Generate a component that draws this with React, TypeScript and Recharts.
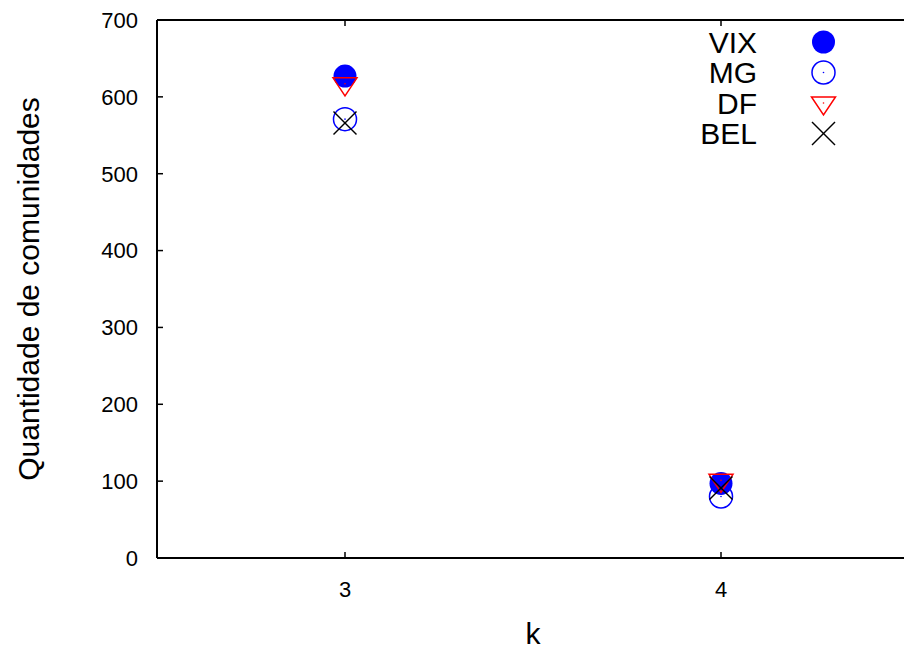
import { ScatterChart, Scatter, XAxis, YAxis, Label, ReferenceLine } from 'recharts';

// data (k = 3, 4)
const K_VALUES = [3, 4];
const VIX = [627, 97];
const MG = [571, 80];
const DF = [617, 101];
const BEL = [566, 91];
const X_TICKS = [3, 4];
const Y_TICKS = [0, 100, 200, 300, 400, 500, 600, 700];

const FONT = '"Liberation Sans", Arial, Helvetica, sans-serif';
const BLUE = '#0000ff';
const RED = '#ff0000';
const MARGIN = { top: 20, right: 11, left: 57, bottom: 0 };
const R = 11.5;

const toRows = (vals: number[]) => K_VALUES.map((k, i) => ({ k, v: vals[i] }));

function FilledCircle({ cx, cy }: any) {
  return <circle cx={cx} cy={cy} r={R} fill={BLUE} />;
}
function OpenCircle({ cx, cy }: any) {
  return (
    <g>
      <circle cx={cx} cy={cy} r={R} fill="none" stroke={BLUE} strokeWidth={1.5} />
      <circle cx={cx} cy={cy} r={0.8} fill={BLUE} />
    </g>
  );
}
function TriangleDown({ cx, cy }: any) {
  const pts = `${cx - 12},${cy - 6} ${cx + 12},${cy - 6} ${cx},${cy + 12}`;
  return (
    <g>
      <polygon points={pts} fill="none" stroke={RED} strokeWidth={1.5} strokeLinejoin="miter" />
      <circle cx={cx} cy={cy} r={0.8} fill={RED} />
    </g>
  );
}
function Cross({ cx, cy }: any) {
  return (
    <g stroke="#000" strokeWidth={1.5}>
      <line x1={cx - R} y1={cy - R} x2={cx + R} y2={cy + R} />
      <line x1={cx - R} y1={cy + R} x2={cx + R} y2={cy - R} />
    </g>
  );
}

const SERIES = [
  { name: 'VIX', values: VIX, Shape: FilledCircle },
  { name: 'MG', values: MG, Shape: OpenCircle },
  { name: 'DF', values: DF, Shape: TriangleDown },
  { name: 'BEL', values: BEL, Shape: Cross },
];

// y ticks: label on the left, short tick pointing into the plot
function YTick({ x, y, payload }: any) {
  const axisX = x + 19;
  return (
    <g>
      <line x1={axisX} y1={y} x2={axisX + 6} y2={y} stroke="#000" strokeWidth={1.5} />
      <text x={x} y={y} dy="0.36em" textAnchor="end" fontSize={22} fill="#000" fontFamily={FONT}>{payload.value}</text>
    </g>
  );
}

// x ticks: label below, inner tick at bottom and mirrored at top border
function XTick({ x, y, payload }: any) {
  const axisY = y - 23;
  return (
    <g>
      <line x1={x} y1={axisY} x2={x} y2={axisY - 6} stroke="#000" strokeWidth={1.5} />
      <line x1={x} y1={MARGIN.top} x2={x} y2={MARGIN.top + 6} stroke="#000" strokeWidth={1.5} />
      <text x={x} y={y} dy="0.71em" textAnchor="middle" fontSize={22} fill="#000" fontFamily={FONT}>{payload.value}</text>
    </g>
  );
}

function YTitle({ viewBox }: any) {
  const cx = viewBox.x - 18;
  const cy = viewBox.y + viewBox.height / 2;
  return (
    <text x={cx} y={cy} transform={`rotate(-90, ${cx}, ${cy})`} textAnchor="middle" fontSize={30} fill="#000" fontFamily={FONT}>
      Quantidade de comunidades
    </text>
  );
}

function LegendBox() {
  return (
    <svg width={170} height={140} style={{ position: 'absolute', left: 690, top: 20 }}>
      {SERIES.map((s, i) => {
        const cy = 22 + i * 30.5;
        const S = s.Shape;
        return (
          <g key={s.name}>
            <text x={67} y={cy + 10.5} textAnchor="end" fontSize={30} fill="#000" fontFamily={FONT}>{s.name}</text>
            <S cx={133.5} cy={cy} />
          </g>
        );
      })}
    </svg>
  );
}

export default function App() {
  return (
    <div style={{ position: 'absolute', left: 0, top: 0, width: 904, height: 650, overflow: 'hidden', background: '#fff', fontFamily: FONT }}>
      <ScatterChart width={920} height={650} margin={MARGIN}>
        <XAxis
          type="number" dataKey="k" domain={[2.5, 4.5]} ticks={X_TICKS}
          height={92} tickSize={0} tickMargin={23} tickLine={false}
          axisLine={{ stroke: '#000', strokeWidth: 2 }} tick={<XTick />}
        >
          <Label value="k" position="insideBottom" offset={6} fontSize={30} fill="#000" fontFamily={FONT} />
        </XAxis>
        <YAxis
          type="number" dataKey="v" domain={[0, 700]} ticks={Y_TICKS}
          width={100} tickSize={0} tickMargin={19} tickLine={false}
          axisLine={{ stroke: '#000', strokeWidth: 2 }} tick={<YTick />}
        >
          <Label content={<YTitle />} />
        </YAxis>
        {/* top border of the frame */}
        <ReferenceLine y={700} stroke="#000" strokeWidth={2} />
        {SERIES.map(s => (
          <Scatter
            key={s.name} name={s.name} data={toRows(s.values)} dataKey="v"
            isAnimationActive={false}
            shape={(p: any) => <s.Shape cx={p.cx} cy={p.cy} />}
          />
        ))}
      </ScatterChart>
      <LegendBox />
    </div>
  );
}
